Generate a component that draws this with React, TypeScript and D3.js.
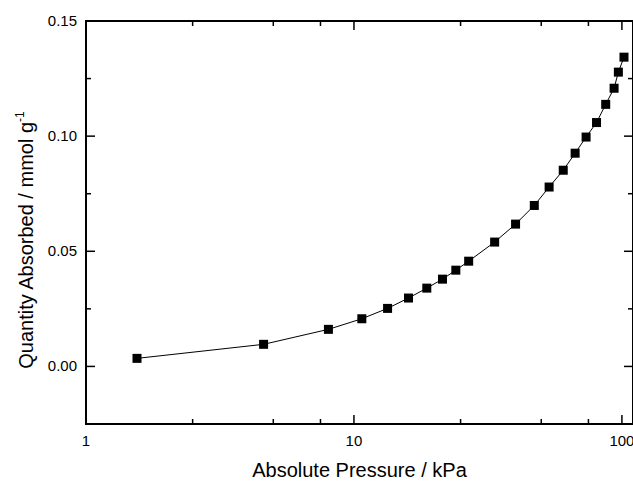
import React, { useEffect, useRef } from 'react';
import * as d3 from 'd3';

// pressure (kPa) and quantity absorbed (mmol/g)
const pressure = [1.55, 4.6, 8.03, 10.7, 13.35, 15.98, 18.7, 21.4, 24.0, 26.8, 33.5, 40.1, 47.1, 53.5, 60.4, 66.9, 73.5, 80.4, 87.0, 93.5, 97.0, 101.8];
const quantity = [0.0035, 0.0096, 0.0161, 0.0207, 0.0252, 0.0297, 0.034, 0.0379, 0.0418, 0.0457, 0.054, 0.0618, 0.0699, 0.0779, 0.0852, 0.0926, 0.0996, 0.1059, 0.1138, 0.1208, 0.1278, 0.1343];

const xMajor = [1, 10, 100];
const xMinor = [2.5, 5, 7.5, 25, 50, 75];
const yMajor = [0, 0.05, 0.1, 0.15];
const yMinor = [-0.025, 0.025, 0.075, 0.125];
const yTickLabels = ['0.00', '0.05', '0.10', '0.15'];

const App = () => {
  const ref = useRef<SVGSVGElement>(null);

  useEffect(() => {
    const svg = d3.select(ref.current);
    svg.selectAll('*').remove();

    const left = 86, right = 633, top = 21, bottom = 424;
    const font = 'Arial, "Liberation Sans", sans-serif';

    const x = d3.scaleLog().domain([1, 110]).range([left, right]);
    const y = d3.scaleLinear().domain([-0.025, 0.15]).range([bottom, top]);

    const data = pressure.map((p, i) => ({ p, q: quantity[i] }));

    // connecting line
    const line = d3.line<{ p: number; q: number }>()
      .x(d => x(d.p))
      .y(d => y(d.q));

    svg.append('path')
      .datum(data)
      .attr('d', line)
      .attr('fill', 'none')
      .attr('stroke', '#000')
      .attr('stroke-width', 1);

    // square markers
    const s = 9;
    svg.selectAll('rect.pt')
      .data(data)
      .enter().append('rect')
      .attr('class', 'pt')
      .attr('x', d => x(d.p) - s / 2)
      .attr('y', d => y(d.q) - s / 2)
      .attr('width', s)
      .attr('height', s)
      .attr('fill', '#000');

    // ticks, pointing inward on all four sides
    const g = svg.append('g').attr('stroke', '#000').attr('stroke-width', 1.5);
    const xt = [...xMajor.map(v => ({ v, len: 9 })), ...xMinor.map(v => ({ v, len: 5 }))];
    xt.forEach(t => {
      g.append('line').attr('x1', x(t.v)).attr('x2', x(t.v)).attr('y1', bottom).attr('y2', bottom - t.len);
      g.append('line').attr('x1', x(t.v)).attr('x2', x(t.v)).attr('y1', top).attr('y2', top + t.len);
    });
    const yt = [...yMajor.map(v => ({ v, len: 9 })), ...yMinor.map(v => ({ v, len: 5 }))];
    yt.forEach(t => {
      g.append('line').attr('x1', left).attr('x2', left + t.len).attr('y1', y(t.v)).attr('y2', y(t.v));
      g.append('line').attr('x1', right).attr('x2', right - t.len).attr('y1', y(t.v)).attr('y2', y(t.v));
    });

    // frame
    svg.append('rect')
      .attr('x', left).attr('y', top)
      .attr('width', right - left).attr('height', bottom - top)
      .attr('fill', 'none').attr('stroke', '#000').attr('stroke-width', 2);

    // tick labels
    svg.selectAll('text.xl')
      .data(xMajor)
      .enter().append('text')
      .attr('x', d => x(d))
      .attr('y', 446)
      .attr('text-anchor', 'middle')
      .attr('font-family', font)
      .attr('font-size', 15)
      .text(d => String(d));

    svg.selectAll('text.yl')
      .data(yMajor)
      .enter().append('text')
      .attr('x', 77)
      .attr('y', d => y(d) + 5)
      .attr('text-anchor', 'end')
      .attr('font-family', font)
      .attr('font-size', 15)
      .text((d, i) => yTickLabels[i]);

    // axis titles
    svg.append('text')
      .attr('x', (left + right) / 2)
      .attr('y', 477)
      .attr('text-anchor', 'middle')
      .attr('font-family', font)
      .attr('font-size', 20)
      .text('Absolute Pressure / kPa');

    const yt2 = svg.append('text')
      .attr('transform', 'translate(33,240) rotate(-90)')
      .attr('text-anchor', 'middle')
      .attr('font-family', font)
      .attr('font-size', 20);
    yt2.append('tspan').text('Quantity Absorbed / mmol g');
    yt2.append('tspan').attr('font-size', 12).attr('dy', -9).text('-1');
  }, []);

  return (
    <svg ref={ref} width={633} height={481} style={{ position: 'absolute', left: 0, top: 0 }} />
  );
};

export default App;
